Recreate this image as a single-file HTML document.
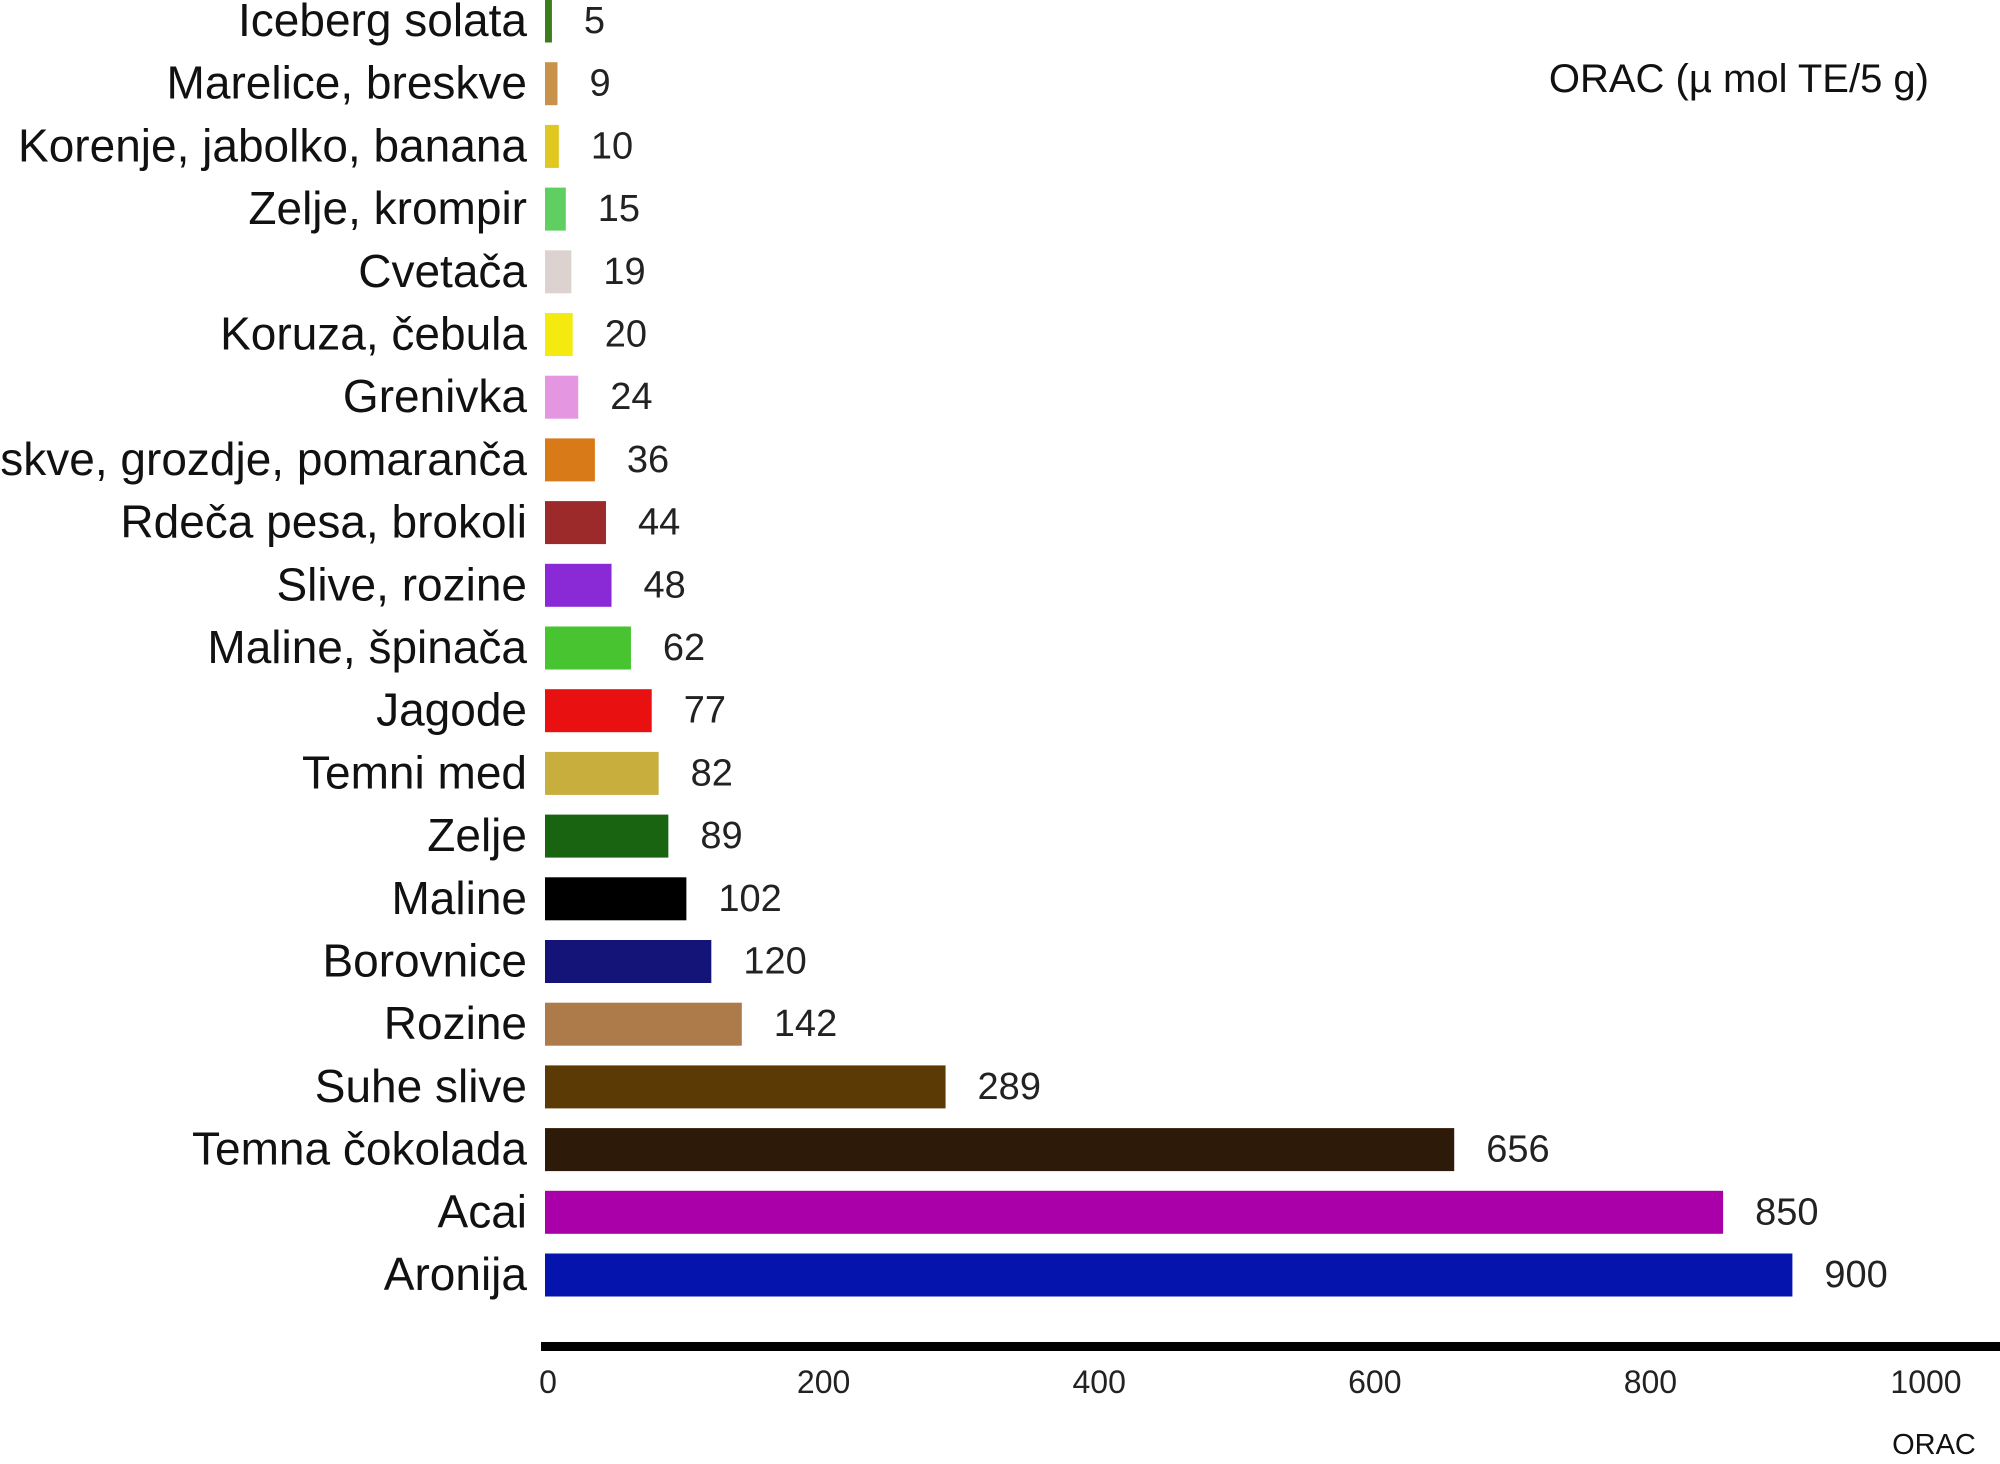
<!DOCTYPE html>
<html><head><meta charset="utf-8"><style>
html,body{margin:0;padding:0;background:#fff;}
svg{display:block;font-family:"Liberation Sans",sans-serif;}
</style></head><body>
<svg id="chart" width="2000" height="1464" viewBox="0 0 2000 1464">
<text x="1929" y="92" text-anchor="end" font-size="40" fill="#111">ORAC (µ mol TE/5 g)</text>
<rect x="541" y="1342" width="1459" height="9" fill="#000"/>
<text x="1934" y="1454" text-anchor="middle" font-size="29" fill="#111">ORAC</text>
<g id="bars"></g>
<g id="ticks"></g>
</svg>
<script>
const categories = ["Iceberg solata","Marelice, breskve","Korenje, jabolko, banana","Zelje, krompir","Cvetača","Koruza, čebula","Grenivka","Breskve, grozdje, pomaranča","Rdeča pesa, brokoli","Slive, rozine","Maline, špinača","Jagode","Temni med","Zelje","Maline","Borovnice","Rozine","Suhe slive","Temna čokolada","Acai","Aronija"];
const values = [5,9,10,15,19,20,24,36,44,48,62,77,82,89,102,120,142,289,656,850,900];
const colors = ["#3a7d1a","#c8924a","#e0c820","#5ecf60","#dcd2d0","#f5ea10","#e596e0","#d97a18","#9c2a2a","#8a2ad6","#48c430","#e81010","#c8ae3c","#186410","#000000","#141478","#ad7a4a","#5c3a05","#2e1a08","#aa00aa","#0414ac"];
const ticks = [0,200,400,600,800,1000];

const NS="http://www.w3.org/2000/svg";
const x0=545, pxPerUnit=1.386;
function xBar(v){return x0+v*pxPerUnit;}
function xTick(v){return 548+v*1.378;}
function yRow(i){return 21+i*62.7;}
const bars=document.getElementById('bars');
categories.forEach((c,i)=>{
  const yc=yRow(i);
  const r=document.createElementNS(NS,'rect');
  
  
  r.setAttribute('x',x0);r.setAttribute('y',yc-21.5);
  r.setAttribute('width',Math.max(xBar(values[i])-x0,1));r.setAttribute('height',43);
  r.setAttribute('fill',colors[i]);
  bars.appendChild(r);
  const l=document.createElementNS(NS,'text');
  
  
  l.setAttribute('x',527);l.setAttribute('y',yc+15);
  l.setAttribute('text-anchor','end');l.setAttribute('font-size','46');l.setAttribute('fill','#111');
  l.textContent=c;bars.appendChild(l);
  const t=document.createElementNS(NS,'text');
  
  
  t.setAttribute('x',xBar(values[i])+32);t.setAttribute('y',yc+12);
  t.setAttribute('font-size','38');t.setAttribute('fill','#222');
  t.textContent=values[i];bars.appendChild(t);
});
const tg=document.getElementById('ticks');
ticks.forEach(v=>{
  const t=document.createElementNS(NS,'text');
  
  
  t.setAttribute('x',xTick(v));t.setAttribute('y',1393);
  t.setAttribute('text-anchor','middle');t.setAttribute('font-size','32');t.setAttribute('fill','#222');
  t.textContent=v;tg.appendChild(t);
});
</script>
</body></html>
